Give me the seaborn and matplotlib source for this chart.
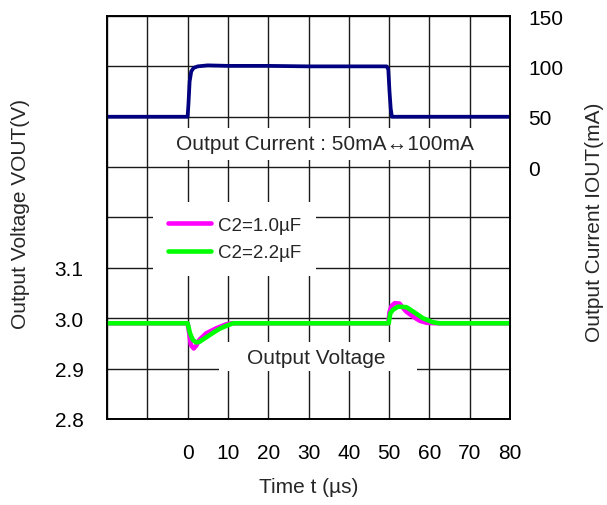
import matplotlib
matplotlib.use("Agg")
import matplotlib.pyplot as plt
from matplotlib.patches import Rectangle
import pandas as pd
import seaborn as sns

# Load step: output current (mA) versus time (µs)
t_current = [-20, 0, 0.2, 0.5, 0.9, 1.5, 2.5, 5, 10, 20, 30, 40, 49.4, 49.8, 50.1, 50.4, 50.7, 60, 70, 80]
i_current = [50, 50, 62, 85, 95, 98.5, 100, 101, 100.5, 100.5, 100, 100, 100, 97, 75, 58, 50, 50, 50, 50]

# Output voltage response (V), C2 = 1.0 µF
t_c1 = [-20, -10, 0, 0.4, 0.8, 1.5, 2.1, 2.9, 4.6, 7.1, 9.6, 11, 20, 30, 40, 49.8,
        50.1, 50.6, 51.4, 52.6, 53.5, 54.3, 56, 57.6, 59.3, 62, 70, 80]
v_c1 = [2.99, 2.99, 2.99, 2.97, 2.947, 2.94, 2.945, 2.957, 2.97, 2.98, 2.988, 2.99, 2.99, 2.99, 2.99, 2.99,
        3.012, 3.024, 3.030, 3.029, 3.020, 3.013, 3.003, 2.995, 2.991, 2.99, 2.99, 2.99]

# Output voltage response (V), C2 = 2.2 µF
t_c2 = [-20, -10, 0, 0.6, 1.3, 2.1, 2.9, 4.6, 6.3, 7.9, 9.6, 11.3, 20, 30, 40, 49.9,
        50.3, 51.0, 52.2, 54.3, 56, 58.4, 60.9, 62.5, 70, 80]
v_c2 = [2.99, 2.99, 2.99, 2.97, 2.957, 2.952, 2.953, 2.962, 2.971, 2.979, 2.985, 2.99, 2.99, 2.99, 2.99, 2.99,
        3.010, 3.017, 3.023, 3.022, 3.013, 3.000, 2.992, 2.99, 2.99, 2.99]

series_labels = ["C2=1.0µF", "C2=2.2µF"]
series_colors = ["#ff00ff", "#00ff00"]

x_grid = list(range(-20, 81, 10))
x_labels = ["" if v < 0 else str(v) for v in x_grid]
v_grid = [2.8 + 0.1 * k for k in range(9)]
v_labels = [f"{v:.1f}" if v < 3.15 else "" for v in v_grid]
i_ticks = [0, 50, 100, 150]

sns.set_theme(style="white")
plt.rcParams["font.family"] = ["Liberation Sans", "DejaVu Sans"]
plt.rcParams["axes.unicode_minus"] = False

fig = plt.figure(figsize=(6.07, 5.06), dpi=100)
ax = fig.add_axes([0.1763, 0.17, 0.6639, 0.7964])

volt = pd.DataFrame({
    "t": t_c1 + t_c2,
    "v": v_c1 + v_c2,
    "series": [series_labels[0]] * len(t_c1) + [series_labels[1]] * len(t_c2),
})
sns.lineplot(data=volt, x="t", y="v", hue="series", hue_order=series_labels,
             palette=dict(zip(series_labels, series_colors)), linewidth=3.3,
             estimator=None, sort=False, ax=ax, zorder=3)

ax.set_xlim(-20, 80)
ax.set_ylim(2.8, 3.6)
ax.set_xticks(x_grid)
ax.set_xticklabels(x_labels)
ax.set_yticks(v_grid)
ax.set_yticklabels(v_labels)
ax.grid(True, color="#1a1a1a", linewidth=1.0)
ax.set_axisbelow(True)
ax.tick_params(axis="both", length=0, labelsize=15, colors="black")
ax.tick_params(axis="x", pad=17)
ax.tick_params(axis="y", pad=17)
ax.set_xlabel("Time t (µs)", fontsize=15, labelpad=11)
ax.set_ylabel("Output Voltage VOUT(V)", fontsize=15)
ax.yaxis.set_label_coords(-0.19, 0.51)

sns.move_legend(ax, "upper left", bbox_to_anchor=(0.128, 0.525), title=None,
                frameon=True, fontsize=13.5, handlelength=2.3, handletextpad=0.35,
                labelspacing=0.55, borderpad=0.5, borderaxespad=0.0)
leg = ax.get_legend()
leg.get_frame().set_facecolor("white")
leg.get_frame().set_edgecolor("none")
leg.get_frame().set_alpha(1.0)
leg.get_frame().set_boxstyle("square")
for h in leg.get_lines():
    h.set_linewidth(3.3)

ax.text(34.0, 3.346, "Output Current : 50mA\u2194100mA", fontsize=15, ha="center", va="center",
        zorder=2, bbox=dict(boxstyle="square,pad=0.3", facecolor="white", edgecolor="none"))
ax.add_patch(Rectangle((7.9, 2.895), 48.9, 0.058, facecolor="white", edgecolor="none", zorder=1.5))
ax.text(31.8, 2.923, "Output Voltage", fontsize=15, ha="center", va="center", zorder=2)

ax2 = ax.twinx()
sns.lineplot(x=t_current, y=i_current, color="#000080", linewidth=2.7,
             estimator=None, sort=False, ax=ax2)
ax2.set_ylim(-250, 150)
ax2.set_yticks(i_ticks)
ax2.grid(False)
ax2.tick_params(axis="y", length=0, labelsize=15, pad=13, colors="black")
ax2.set_ylabel("Output Current IOUT(mA)", fontsize=15)
ax2.yaxis.set_label_coords(1.185, 0.49)

for a in (ax, ax2):
    for s in a.spines.values():
        s.set_color("black")
        s.set_linewidth(1.2)

fig.savefig("out.png", dpi=100)
